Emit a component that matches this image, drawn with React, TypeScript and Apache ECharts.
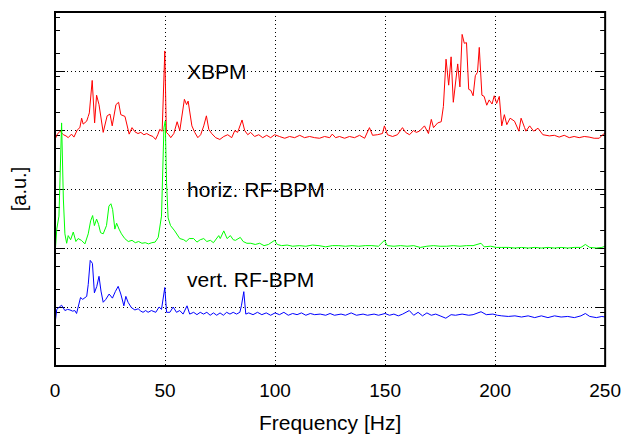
import React, { useEffect, useRef } from "react";
import * as echarts from "echarts";

// Frequency [Hz] and log10 amplitude (decades, arbitrary units)
const xbpmFreq = [0, 1.1, 2.3, 3.8, 5, 6, 7.5, 8.6, 10.1, 11.3, 12.1, 12.8, 14.4, 15.1, 15.6, 16.9, 18, 18.9, 20, 21.9, 23.7, 25, 26, 27.7, 28.9, 29.9, 31.8, 33.7, 35, 36.3, 37.7, 39, 40.4, 41.7, 43.1, 44.5, 45.7, 46.7, 47.6, 48.7, 49.9, 50.6, 51.7, 52.6, 54, 55.5, 56.7, 58.8, 59.8, 60.5, 62.2, 63.5, 64.9, 66.2, 67.6, 68.8, 69.9, 71.2, 73, 74.9, 76.7, 78.5, 80.3, 81.7, 83, 85, 86.2, 87.6, 88.9, 90.7, 92.6, 94.4, 96.2, 98, 99.8, 102, 104.4, 106.6, 108.9, 111.2, 113.4, 115.7, 118, 120.2, 122.5, 124.8, 126, 127.5, 129.3, 131.6, 133.8, 136.1, 138.4, 140.7, 142.9, 144.3, 146.5, 148.8, 149.7, 151.1, 153.4, 155.6, 157.9, 159.3, 161.1, 162.9, 164.2, 165.6, 167.9, 169.7, 171, 172, 173.9, 175.5, 176.5, 177.7, 178.9, 180, 181, 183, 184, 185, 186, 187, 188, 189, 190, 191, 192, 192.8, 194, 195, 196.2, 197.3, 198.6, 199.6, 200.7, 201.9, 203, 204.2, 205.3, 206.8, 208.8, 210.8, 211.8, 213.4, 214, 215.7, 217.5, 219.5, 221.7, 224.7, 226.9, 229.1, 231.4, 233.7, 235.9, 238.2, 240.5, 242.7, 245, 247.3, 248.6, 250];
const xbpmLog = [3.84, 3.93, 3.98, 3.92, 3.90, 3.87, 3.93, 3.88, 4.00, 4.04, 4.20, 4.10, 4.15, 4.23, 4.29, 4.84, 4.12, 4.59, 4.43, 3.96, 4.24, 4.27, 4.07, 4.43, 4.47, 4.26, 4.23, 3.93, 4.04, 3.97, 3.94, 3.96, 3.92, 3.94, 3.91, 3.89, 3.84, 3.92, 4.01, 3.98, 5.34, 3.96, 3.92, 3.87, 3.94, 4.14, 3.99, 4.52, 4.43, 4.49, 4.07, 3.96, 3.87, 3.92, 4.07, 4.24, 4.01, 3.94, 3.87, 3.84, 3.89, 3.92, 3.87, 3.99, 3.96, 4.17, 3.99, 3.92, 3.96, 3.89, 3.92, 3.87, 3.91, 3.87, 3.92, 3.89, 3.86, 3.89, 3.87, 3.91, 3.87, 3.89, 3.87, 3.86, 3.89, 3.87, 3.93, 3.87, 3.89, 3.86, 3.89, 3.87, 3.91, 3.86, 4.04, 3.91, 3.92, 3.94, 4.07, 3.92, 3.89, 3.92, 4.04, 3.96, 3.92, 3.99, 3.96, 3.98, 4.07, 3.94, 4.18, 4.04, 4.12, 4.14, 4.40, 5.20, 4.76, 5.24, 4.47, 5.12, 4.73, 5.62, 5.47, 5.48, 4.69, 4.67, 4.58, 4.92, 4.98, 5.40, 4.59, 4.57, 4.42, 4.51, 4.44, 4.58, 4.45, 4.57, 4.07, 4.26, 4.09, 4.20, 4.15, 3.98, 4.20, 4.04, 3.98, 4.07, 3.98, 4.03, 3.92, 3.90, 3.91, 3.88, 3.91, 3.87, 3.89, 3.87, 3.89, 3.88, 3.86, 3.86, 3.91, 3.95];

const horizFreq = [0, 0.8, 1.8, 3, 3.8, 4.5, 5.3, 6, 7.1, 8.3, 9.5, 10.5, 12, 13.6, 15.1, 16.2, 17.1, 17.9, 18.9, 19.8, 20.7, 21.9, 23.4, 24.5, 25.4, 26.2, 27.2, 28, 29.1, 30.2, 31.7, 33.3, 35, 36.5, 38, 39.5, 41, 42.5, 44, 45.5, 46.9, 48.4, 49.5, 50.1, 50.7, 51.4, 52.5, 54.4, 56.7, 58.5, 59.6, 61, 63, 64.5, 66, 67.6, 69, 70.6, 72, 74.4, 75.1, 76.7, 78.2, 79.7, 81, 82, 84.2, 85.5, 87.2, 89, 91, 93, 95, 97, 99.8, 101, 103, 105.5, 108, 111, 114, 117, 120, 123, 126, 129, 132, 135, 138, 141, 144, 147, 149.7, 151, 154, 157, 160, 163, 166, 169, 172, 175, 178, 181, 184, 187, 190, 193.6, 195, 198, 200.5, 203, 206, 209, 212, 215, 218, 221, 224, 227, 230, 233, 236, 239, 241, 243, 246, 248.5, 250];
const horizLog = [1.88, 2.32, 2.54, 4.12, 2.83, 2.24, 2.08, 2.21, 2.14, 2.27, 2.11, 2.16, 2.13, 2.07, 2.24, 2.46, 2.55, 2.38, 2.49, 2.40, 2.26, 2.24, 2.38, 2.71, 2.75, 2.65, 2.32, 2.42, 2.32, 2.24, 2.16, 2.11, 2.13, 2.09, 2.11, 2.08, 2.09, 2.07, 2.09, 2.10, 2.18, 2.54, 4.04, 4.15, 3.10, 2.51, 2.38, 2.29, 2.16, 2.14, 2.11, 2.16, 2.16, 2.10, 2.14, 2.16, 2.11, 2.13, 2.09, 2.21, 2.16, 2.29, 2.16, 2.21, 2.14, 2.13, 2.18, 2.11, 2.08, 2.08, 2.06, 2.08, 2.04, 2.06, 2.13, 2.06, 2.04, 2.05, 2.03, 2.04, 2.03, 2.05, 2.04, 2.02, 2.04, 2.04, 2.03, 2.04, 2.03, 2.04, 2.04, 2.03, 2.13, 2.04, 2.03, 2.04, 2.03, 2.04, 2.01, 2.03, 2.04, 2.03, 2.03, 2.04, 2.03, 2.04, 2.04, 2.08, 2.02, 2.03, 2.01, 2.01, 2.01, 2.00, 2.01, 2.00, 2.01, 2.00, 2.01, 2.00, 2.01, 2.00, 2.01, 2.01, 2.06, 2.01, 2.00, 2.01, 2.03];

const vertFreq = [0, 0.8, 2, 3, 4.5, 5.7, 6.8, 8, 9, 9.8, 11.6, 12.6, 14.4, 15.1, 16, 17, 17.9, 19, 20, 20.9, 21.9, 23.1, 24.6, 26.1, 27.4, 28.7, 29.9, 31.3, 32.2, 33.2, 34.7, 36.3, 37.8, 39, 40, 41.2, 42.3, 43.8, 45.8, 47.3, 48.4, 49.9, 50.7, 52.2, 53.7, 55.2, 56.7, 58.2, 60, 61.2, 63, 64.5, 66, 67.5, 69, 70.5, 72, 73.5, 75, 76.5, 78, 79.5, 81, 82.5, 84, 84.7, 85.8, 86.7, 88, 90, 92, 94, 96, 98, 100, 102, 104, 106, 108, 110, 112, 114, 116, 118, 120.5, 123, 125, 127, 130, 132, 134.6, 137, 140, 142, 145, 147, 150, 152, 154, 156, 158, 161, 163, 165, 167, 169, 171, 173, 175, 177.6, 180, 182, 185, 188, 190, 193.6, 196, 199, 201, 203, 206, 209, 212, 215, 218, 221, 224, 227, 230, 233, 236, 239, 241, 243, 246, 248.5, 250];
const vertLog = [0.71, 0.96, 1.00, 1.03, 0.94, 0.96, 0.95, 0.93, 0.94, 0.89, 1.16, 1.13, 1.18, 1.38, 1.79, 1.74, 1.24, 1.35, 1.52, 1.27, 1.08, 1.13, 1.22, 1.15, 1.26, 1.35, 1.22, 1.02, 1.18, 1.08, 0.99, 0.95, 0.97, 0.93, 0.91, 0.94, 0.91, 0.94, 0.91, 1.00, 0.96, 1.33, 0.91, 0.91, 1.00, 0.91, 0.94, 0.88, 1.02, 0.88, 0.91, 0.87, 0.91, 0.88, 0.91, 0.86, 0.90, 0.86, 0.90, 0.86, 0.91, 0.88, 0.91, 0.88, 0.91, 1.02, 1.26, 0.88, 0.90, 0.87, 0.91, 0.87, 0.90, 0.86, 0.90, 0.87, 0.91, 0.86, 0.89, 0.87, 0.90, 0.86, 0.89, 0.87, 0.88, 0.86, 0.89, 0.86, 0.88, 0.86, 0.90, 0.86, 0.88, 0.86, 0.88, 0.86, 0.89, 0.86, 0.88, 0.85, 0.88, 0.94, 0.86, 0.91, 0.85, 0.90, 0.86, 0.88, 0.85, 0.81, 0.87, 0.86, 0.88, 0.86, 0.87, 0.92, 0.87, 0.88, 0.86, 0.85, 0.84, 0.85, 0.83, 0.85, 0.82, 0.85, 0.82, 0.85, 0.83, 0.84, 0.82, 0.85, 0.89, 0.84, 0.82, 0.84, 0.83];

const xTicks = [0, 50, 100, 150, 200, 250];
const decades = [0, 1, 2, 3, 4, 5, 6];
const minorFactors = [2, 5, 8];
const seriesNames = ["XBPM", "horiz. RF-BPM", "vert. RF-BPM"];
const seriesColors = ["#ff0000", "#00ff00", "#0000ff"];
const labelDecade = [4.99, 3.0, 1.46];

const FONT = "'Liberation Sans', Arial, sans-serif";

export default function App() {
  const ref = useRef<HTMLDivElement>(null);
  useEffect(() => {
    if (!ref.current) return;
    const chart = echarts.init(ref.current, null, { renderer: "svg" });
    const minorVals: number[] = [];
    for (let d = 0; d < decades.length - 1; d++) {
      for (const m of minorFactors) minorVals.push(decades[d] + Math.log10(m));
    }
    const zip = (f: number[], v: number[]) => f.map((x, i) => [x, v[i]]);
    const seriesData = [zip(xbpmFreq, xbpmLog), zip(horizFreq, horizLog), zip(vertFreq, vertLog)];
    const dotted = { color: "#000", width: 1, type: [1, 3] as any };
    const baseY = {
      type: "value" as const,
      min: decades[0],
      max: decades[decades.length - 1],
      interval: 1,
      axisLine: { show: false },
      axisLabel: { show: false },
      splitLine: { show: false },
    };
    chart.setOption({
      animation: false,
      backgroundColor: "#fff",
      grid: { left: 55, right: 18, top: 12, bottom: 65, show: true, borderColor: "#000", borderWidth: 2, backgroundColor: "transparent", z: 10 },
      xAxis: {
        type: "value",
        min: xTicks[0],
        max: xTicks[xTicks.length - 1],
        interval: 50,
        axisLine: { show: false },
        axisTick: { show: false },
        axisLabel: { color: "#000", fontSize: 19, fontFamily: FONT, margin: 15 },
        splitLine: { show: true, lineStyle: dotted },
        name: "Frequency [Hz]",
        nameLocation: "middle",
        nameGap: 46,
        nameTextStyle: { color: "#000", fontSize: 21, fontFamily: FONT },
      },
      yAxis: [
        {
          ...baseY,
          position: "left",
          axisTick: { show: true, inside: true, length: 10, lineStyle: { color: "#000", width: 1 } },
          splitLine: { show: true, lineStyle: dotted },
          name: "[a.u.]",
          nameLocation: "middle",
          nameGap: 26,
          nameRotate: 90,
          nameTextStyle: { color: "#000", fontSize: 20, fontFamily: FONT },
        },
        {
          ...baseY,
          position: "left",
          axisTick: { show: true, inside: true, length: 5, customValues: minorVals, lineStyle: { color: "#000", width: 1 } },
        },
        {
          ...baseY,
          position: "right",
          axisTick: { show: true, inside: true, length: 10, lineStyle: { color: "#000", width: 1 } },
        },
        {
          ...baseY,
          position: "right",
          axisTick: { show: true, inside: true, length: 5, customValues: minorVals, lineStyle: { color: "#000", width: 1 } },
        },
      ],
      series: seriesNames.map((name, i) => ({
        name,
        type: "line",
        data: seriesData[i],
        showSymbol: false,
        symbol: "none",
        lineStyle: { color: seriesColors[i], width: 1 },
        z: 2 + i,
      })),
    });
    const texts = seriesNames.map((name, i) => {
      const p = chart.convertToPixel({ gridIndex: 0 }, [60, labelDecade[i]]);
      return {
        type: "text",
        x: p[0],
        y: p[1],
        style: { text: name, fill: "#000", fontSize: 21, fontFamily: FONT, textVerticalAlign: "middle", textAlign: "left" },
        z: 20,
      };
    });
    chart.setOption({ graphic: texts });
    return () => chart.dispose();
  }, []);
  return <div ref={ref} style={{ position: "absolute", left: 0, top: 0, width: 624, height: 438 }} />;
}
